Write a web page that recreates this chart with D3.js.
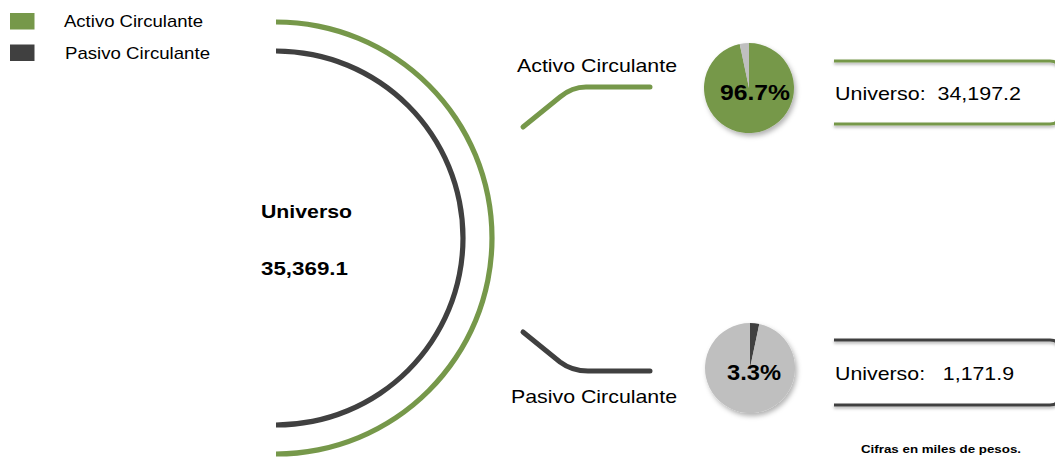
<!DOCTYPE html>
<html><head><meta charset="utf-8">
<script src="https://cdn.jsdelivr.net/npm/d3@7"></script>
<style>body{margin:0;background:#fff}svg{display:block;font-family:"Liberation Sans",Arial,Helvetica,sans-serif}</style>
</head><body>
<svg id="c" width="1055" height="458"></svg>
<script>
const categories = ["Activo Circulante", "Pasivo Circulante"];
const values = [34197.2, 1171.9];
const totalLabel = "Universo";
const total = 35369.1;
const colors = ["#76984a", "#404040"];
const grey = "#bfbfbf";

const svg = d3.select("#c");
const defs = svg.append("defs");
const f = defs.append("filter").attr("id","sh").attr("x","-20%").attr("y","-20%").attr("width","150%").attr("height","150%");
f.append("feDropShadow").attr("dx",2).attr("dy",3).attr("stdDeviation",2.5).attr("flood-color","#000").attr("flood-opacity",0.3);
const f2 = defs.append("filter").attr("id","sh2").attr("x","-5%").attr("y","-50%").attr("width","110%").attr("height","200%");
f2.append("feDropShadow").attr("dx",0).attr("dy",2).attr("stdDeviation",1.5).attr("flood-color","#000").attr("flood-opacity",0.3);

const fmt = d3.format(",.1f");
const pct = d3.format(".1%");
const shares = values.map(v => v / d3.sum(values));

function txt(x, y, s, size, len, opts={}) {
  const t = svg.append("text").attr("x",x).attr("y",y).attr("font-size",size).attr("fill","#000")
    .attr("xml:space","preserve").text(s);
  if (opts.bold) t.attr("font-weight","bold");
  if (len) t.attr("textLength",len).attr("lengthAdjust","spacingAndGlyphs");
  return t;
}

// Legend
const legLen = [139, 145];
categories.forEach((c,i)=>{
  svg.append("rect").attr("x",10).attr("y",13+i*31.5).attr("width",24.5).attr("height",16.5).attr("fill",colors[i]);
  txt(64+i, 27+i*31.5, c, 17, legLen[i]);
});

// Semicircles
const cx = 276, cy = 238;
const rScale = d3.scaleLinear().domain([0,1]).range([0,216]);
const radii = [1, 187/216];
categories.forEach((c,i)=>{
  const r = rScale(radii[i]);
  const arc = d3.arc().innerRadius(r-2.6).outerRadius(r+2.6).startAngle(0).endAngle(Math.PI);
  svg.append("path").attr("transform",`translate(${cx},${cy})`).attr("d",arc()).attr("fill",colors[i]);
});
txt(261, 218, totalLabel, 19, 91, {bold:true});
txt(261, 275, fmt(total), 19, 87, {bold:true});

// Connectors: start, curve start, control, curve end, end
const conn = [
  {pts:[[523,127],[560,97],[572,87],[586,87],[650,87]], label:[517,72], len:160},
  {pts:[[523,332],[560,362],[572,371],[588,371],[650,371]], label:[511,403], len:166}
];
conn.forEach((d,i)=>{
  const p = d.pts;
  const path = `M${p[0]}L${p[1]}Q${p[2]} ${p[3]}L${p[4]}`;
  svg.append("path").attr("d",path).attr("fill","none").attr("stroke",colors[i]).attr("stroke-width",5).attr("stroke-linecap","round").attr("stroke-linejoin","round");
  txt(d.label[0], d.label[1], categories[i], 19, d.len);
});

// Pies
const pieCenters = [[749,88],[750,368]];
const pieR = 45;
const arcP = d3.arc().innerRadius(0).outerRadius(pieR);
const pctPos = [[720,100,70],[727,380,54]];
categories.forEach((c,i)=>{
  const order = i===0 ? [0,1] : [1,0];
  const data = order.map(k=>({k, v: values[k]}));
  const pie = d3.pie().sort(null).value(d=>d.v)(data);
  const g = svg.append("g").attr("transform",`translate(${pieCenters[i]})`).attr("filter","url(#sh)");
  g.selectAll("path").data(pie).join("path").attr("d",arcP)
    .attr("fill",d=> d.data.k===i ? colors[i] : grey);
  txt(pctPos[i][0], pctPos[i][1], pct(shares[i]), 22, pctPos[i][2], {bold:true});
});

// Boxes
const boxes = [[61,124],[340,405]];
const boxLen = [186, 179];
boxes.forEach((b,i)=>{
  const [t,bt] = b, x0 = 834, x1 = 1060, rr = 10;
  const path = `M${x0},${t}H${x1-rr}Q${x1},${t} ${x1},${t+rr}V${bt-rr}Q${x1},${bt} ${x1-rr},${bt}H${x0}`;
  svg.append("path").attr("d",path).attr("fill","none").attr("stroke",colors[i]).attr("stroke-width",3).attr("filter","url(#sh2)");
  txt(835, (t+bt)/2+7, (i===0 ? "Universo:  " : "Universo:   ") + fmt(values[i]), 19, boxLen[i]);
});

txt(861, 453, "Cifras en miles de pesos.", 11.5, 160, {bold:true});
</script>
</body></html>
